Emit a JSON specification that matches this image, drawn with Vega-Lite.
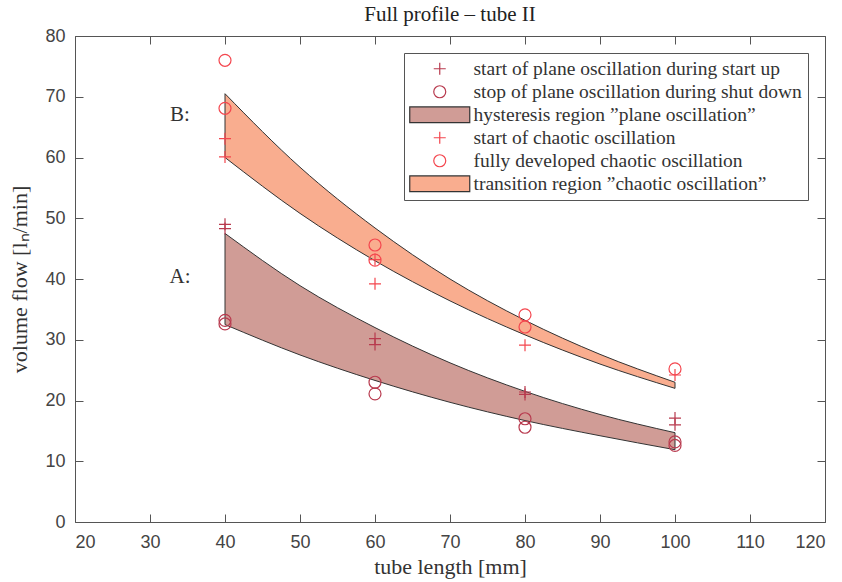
{
  "$schema": "https://vega.github.io/schema/vega-lite/v6.json",
  "width": 750,
  "height": 486,
  "autosize": {"type": "none"},
  "padding": {"left": 75, "top": 36, "right": 17, "bottom": 60},
  "background": "white",
  "title": {"text": "Full profile – tube II", "font": "Liberation Serif", "fontSize": 21, "fontWeight": "normal", "color": "#222", "offset": 2, "anchor": "middle"},
  "config": {
    "view": {"stroke": null},
    "axis": {"grid": false, "domainColor": "#555", "tickColor": "#555", "labelColor": "#444", "labelFont": "Liberation Sans", "labelFontSize": 18, "titleFont": "Liberation Serif", "titleFontSize": 22, "titleFontWeight": "normal", "titleColor": "#333", "tickSize": -8, "domainWidth": 1, "tickWidth": 1},
    "legend": {"orient": "top-right", "offset": 17, "strokeColor": "#555", "fillColor": "white", "padding": 6, "labelFont": "Liberation Serif", "labelFontSize": 19.5, "labelColor": "#333", "symbolSize": 144, "symbolStrokeWidth": 1.2, "symbolOffset": 20, "labelOffset": 24, "rowPadding": 2, "labelLimit": 500}
  },
  "datasets": {
    "bands": [
      {"series": "hysteresis region ”plane oscillation”", "x": 40, "hi": 47.5, "lo": 32.5},
      {"series": "hysteresis region ”plane oscillation”", "x": 50, "hi": 38.9, "lo": 27.5},
      {"series": "hysteresis region ”plane oscillation”", "x": 60, "hi": 32.0, "lo": 23.3},
      {"series": "hysteresis region ”plane oscillation”", "x": 70, "hi": 26.2, "lo": 19.7},
      {"series": "hysteresis region ”plane oscillation”", "x": 80, "hi": 21.5, "lo": 16.7},
      {"series": "hysteresis region ”plane oscillation”", "x": 90, "hi": 17.7, "lo": 14.2},
      {"series": "hysteresis region ”plane oscillation”", "x": 100, "hi": 14.7, "lo": 11.9},
      {"series": "transition region ”chaotic oscillation”", "x": 40, "hi": 70.5, "lo": 60.0},
      {"series": "transition region ”chaotic oscillation”", "x": 50, "hi": 58.4, "lo": 50.8},
      {"series": "transition region ”chaotic oscillation”", "x": 60, "hi": 48.4, "lo": 43.0},
      {"series": "transition region ”chaotic oscillation”", "x": 70, "hi": 40.0, "lo": 36.4},
      {"series": "transition region ”chaotic oscillation”", "x": 80, "hi": 33.2, "lo": 30.8},
      {"series": "transition region ”chaotic oscillation”", "x": 90, "hi": 27.6, "lo": 26.0},
      {"series": "transition region ”chaotic oscillation”", "x": 100, "hi": 23.0, "lo": 22.0}
    ],
    "points": [
      {"series": "start of plane oscillation during start up", "x": 40, "y": 49.0},
      {"series": "start of plane oscillation during start up", "x": 40, "y": 48.3},
      {"series": "start of plane oscillation during start up", "x": 60, "y": 30.2},
      {"series": "start of plane oscillation during start up", "x": 60, "y": 29.2},
      {"series": "start of plane oscillation during start up", "x": 80, "y": 21.4},
      {"series": "start of plane oscillation during start up", "x": 80, "y": 21.0},
      {"series": "start of plane oscillation during start up", "x": 100, "y": 17.1},
      {"series": "start of plane oscillation during start up", "x": 100, "y": 16.0},
      {"series": "stop of plane oscillation during shut down", "x": 40, "y": 33.2},
      {"series": "stop of plane oscillation during shut down", "x": 40, "y": 32.6},
      {"series": "stop of plane oscillation during shut down", "x": 60, "y": 23.0},
      {"series": "stop of plane oscillation during shut down", "x": 60, "y": 21.1},
      {"series": "stop of plane oscillation during shut down", "x": 80, "y": 17.0},
      {"series": "stop of plane oscillation during shut down", "x": 80, "y": 15.6},
      {"series": "stop of plane oscillation during shut down", "x": 100, "y": 13.2},
      {"series": "stop of plane oscillation during shut down", "x": 100, "y": 12.6},
      {"series": "start of chaotic oscillation", "x": 40, "y": 63.1},
      {"series": "start of chaotic oscillation", "x": 40, "y": 60.1},
      {"series": "start of chaotic oscillation", "x": 60, "y": 43.2},
      {"series": "start of chaotic oscillation", "x": 60, "y": 39.2},
      {"series": "start of chaotic oscillation", "x": 80, "y": 29.1},
      {"series": "start of chaotic oscillation", "x": 100, "y": 24.2},
      {"series": "fully developed chaotic oscillation", "x": 40, "y": 76.0},
      {"series": "fully developed chaotic oscillation", "x": 40, "y": 68.1},
      {"series": "fully developed chaotic oscillation", "x": 60, "y": 45.6},
      {"series": "fully developed chaotic oscillation", "x": 60, "y": 43.1},
      {"series": "fully developed chaotic oscillation", "x": 80, "y": 34.1},
      {"series": "fully developed chaotic oscillation", "x": 80, "y": 32.1},
      {"series": "fully developed chaotic oscillation", "x": 100, "y": 25.2}
    ],
    "labels": [
      {"label": "A:", "x": 34, "y": 40.3},
      {"label": "B:", "x": 34, "y": 67.0}
    ]
  },
  "layer": [
    {
      "data": {"name": "bands"},
      "mark": {"type": "area", "interpolate": "monotone", "strokeWidth": 1, "opacity": 1, "fillOpacity": 1},
      "encoding": {
        "x": {"field": "x", "type": "quantitative", "scale": {"domain": [20, 120], "nice": false}, "axis": {"orient": "bottom", "values": [20,30,40,50,60,70,80,90,100,110,120], "title": "tube length [mm]", "labelPadding": 19, "titlePadding": 5}},
        "y": {"field": "hi", "type": "quantitative", "scale": {"domain": [0, 80], "nice": false}, "axis": {"orient": "left", "values": [0,10,20,30,40,50,60,70,80], "title": "volume flow [lₙ/min]", "labelPadding": 18, "titlePadding": 13}},
        "y2": {"field": "lo"},
        "fill": {"field": "series", "type": "nominal", "scale": {"domain": ["start of plane oscillation during start up", "stop of plane oscillation during shut down", "hysteresis region ”plane oscillation”", "start of chaotic oscillation", "fully developed chaotic oscillation", "transition region ”chaotic oscillation”"], "range": ["transparent", "transparent", "#d09c96", "transparent", "transparent", "#f9ad8f"]}, "legend": {"title": null}},
        "stroke": {"field": "series", "type": "nominal", "scale": {"domain": ["start of plane oscillation during start up", "stop of plane oscillation during shut down", "hysteresis region ”plane oscillation”", "start of chaotic oscillation", "fully developed chaotic oscillation", "transition region ”chaotic oscillation”"], "range": ["#b83a4e", "#b83a4e", "#333333", "#f4464e", "#f4464e", "#333333"]}, "legend": {"title": null}}
      }
    },
    {
      "data": {"name": "points"},
      "mark": {"type": "point", "size": 144, "strokeWidth": 1.2, "opacity": 1},
      "encoding": {
        "x": {"field": "x", "type": "quantitative", "axis": null},
        "y": {"field": "y", "type": "quantitative", "axis": null},
        "fill": {"field": "series", "type": "nominal"},
        "stroke": {"field": "series", "type": "nominal"},
        "shape": {"field": "series", "type": "nominal", "scale": {"domain": ["start of plane oscillation during start up", "stop of plane oscillation during shut down", "hysteresis region ”plane oscillation”", "start of chaotic oscillation", "fully developed chaotic oscillation", "transition region ”chaotic oscillation”"], "range": ["M-1,0H1M0,-1V1", "circle", "M-5,-1.3H5V1.3H-5Z", "M-1,0H1M0,-1V1", "circle", "M-5,-1.3H5V1.3H-5Z"]}, "legend": {"title": null}}
      }
    },
    {
      "data": {"name": "labels"},
      "mark": {"type": "text", "font": "Liberation Serif", "fontSize": 21, "color": "#333", "align": "center", "baseline": "middle"},
      "encoding": {
        "x": {"field": "x", "type": "quantitative", "axis": {"orient": "top", "labels": false, "title": null, "values": [20,30,40,50,60,70,80,90,100,110,120]}},
        "y": {"field": "y", "type": "quantitative", "axis": {"orient": "right", "labels": false, "title": null, "values": [0,10,20,30,40,50,60,70,80]}},
        "text": {"field": "label"}
      }
    }
  ]
}
